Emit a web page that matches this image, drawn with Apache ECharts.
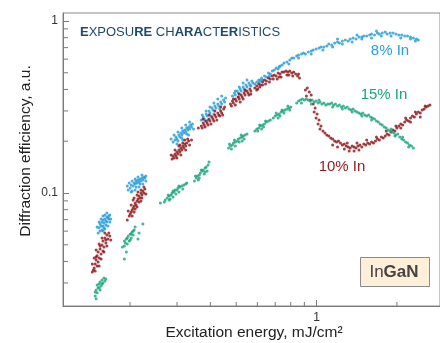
<!DOCTYPE html>
<html lang="en">
<head>
<meta charset="UTF-8">
<title>Exposure characteristics</title>
<script src="https://cdn.jsdelivr.net/npm/echarts@6/dist/echarts.min.js"></script>
<style>
  html, body { margin: 0; padding: 0; background: #fff; }
</style>
</head>
<body>
<div id="chart" style="width: 440px; height: 343px;"></div>
<script>
// energy (mJ/cm2), diffraction efficiency (a.u.)
var inGaN8 = [
  [0.1532,0.0627],[0.1545,0.0661],[0.1558,0.0643],[0.1571,0.0679],[0.1584,0.0697],[0.1597,0.0670],[0.1610,0.0706],
  [0.1624,0.0688],[0.1638,0.0725],[0.1652,0.0716],[0.1666,0.0735],[0.1680,0.0745],[0.1571,0.0610],[0.1597,0.0627],
  [0.1624,0.0652],[0.1545,0.0602],[0.1520,0.0586],[0.1584,0.0643],[0.1638,0.0679],[0.1666,0.0706],
  [0.1506,0.0635],[0.1532,0.0679],[0.1558,0.0706],[0.1584,0.0735],[0.1610,0.0745],[0.1638,0.0765],[0.1584,0.0602],
  [0.1610,0.0618],[0.1652,0.0643],[0.1680,0.0679],[0.1694,0.0706],
  [0.1970,0.1042],[0.2003,0.1070],[0.2020,0.1114],[0.2055,0.1099],[0.2072,0.1144],[0.2090,0.1128],[0.2107,0.1175],
  [0.2125,0.1144],[0.2143,0.1191],[0.2161,0.1159],[0.2180,0.1206],[0.2198,0.1175],[0.2217,0.1223],[0.2235,0.1191],
  [0.2254,0.1239],[0.2273,0.1223],[0.2037,0.1028],[0.2107,0.1084],[0.2180,0.1128],[0.2293,0.1256],
  [0.1953,0.1099],[0.1986,0.1144],[0.2037,0.1175],[0.2090,0.1206],[0.2143,0.1239],[0.2217,0.1273],[0.2020,0.1014],
  [0.2090,0.1042],[0.2161,0.1084],[0.2235,0.1128],[0.2293,0.1175],
  [0.2900,0.1980],[0.2949,0.2034],[0.2973,0.2117],[0.2998,0.2061],[0.3049,0.2175],[0.3075,0.2117],[0.3101,0.2234],
  [0.3127,0.2175],[0.3153,0.2294],[0.3180,0.2234],[0.3207,0.2325],[0.3234,0.2264],[0.3261,0.2388],[0.3289,0.2325],
  [0.3316,0.2420],[0.3344,0.2357],[0.3372,0.2486],[0.3400,0.2420],[0.3429,0.2519],[0.3024,0.2007],[0.3127,0.2089],
  [0.3261,0.2204],
  [0.2851,0.2061],[0.2924,0.2175],[0.3024,0.2264],[0.3127,0.2388],[0.3234,0.2486],[0.3344,0.2588],[0.2998,0.1928],
  [0.3153,0.2034],[0.3316,0.2175],[0.3458,0.2357],
  [0.3698,0.2658],[0.3760,0.2767],[0.3792,0.2694],[0.3857,0.2881],[0.3889,0.2804],[0.3955,0.2999],[0.3988,0.2920],
  [0.4056,0.3125],[0.4090,0.3039],[0.4159,0.3208],[0.4195,0.3125],[0.4266,0.3295],[0.4302,0.3208],[0.4374,0.3383],
  [0.4411,0.3295],[0.4486,0.3474],[0.4524,0.3383],[0.4562,0.3566],[0.3824,0.2623],[0.4022,0.2804],
  [0.3729,0.2842],[0.3857,0.2999],[0.3988,0.3166],[0.4124,0.3338],[0.4266,0.3520],[0.4411,0.3665],[0.3922,0.2658],
  [0.4124,0.2881],[0.4338,0.3081],
  [0.4838,0.3665],[0.4920,0.3815],[0.4961,0.3714],[0.5045,0.3918],[0.5088,0.3815],[0.5174,0.4024],[0.5217,0.3918],
  [0.5306,0.4134],[0.5351,0.4024],[0.5441,0.4246],[0.5487,0.4134],[0.5580,0.4363],[0.5627,0.4246],[0.5722,0.4480],
  [0.5770,0.4363],[0.4961,0.3918],[0.5131,0.4134],[0.5306,0.4363],[0.5487,0.4540],[0.5088,0.3616],[0.5396,0.3918],
  [0.5675,0.4190],
  [0.5868,0.4304],[0.5967,0.4420],[0.6068,0.4540],[0.6120,0.4420],[0.6223,0.4663],[0.6276,0.4540],[0.6382,0.4790],
  [0.6490,0.4726],[0.6600,0.4986],[0.6712,0.4920],[0.6825,0.5121],[0.6941,0.5190],[0.7058,0.5332],[0.7178,0.5261],
  [0.7299,0.5476],[0.7423,0.5550],[0.7549,0.5700],[0.7742,0.5777],[0.7939,0.5934],[0.8073,0.6095],[0.8210,0.6095],
  [0.8420,0.6260],[0.8562,0.6344],[0.8780,0.6430],[0.8929,0.6516],[0.9080,0.6430],[0.9312,0.6604],[0.9550,0.6693],
  [0.9711,0.6783],[0.9959,0.6875],[1.0214,0.6968],[1.0387,0.7062],[1.0652,0.7062],[1.0924,0.7157],[1.1108,0.7351],
  [1.1392,0.7253],[1.1683,0.7450],[1.1979,0.7550],[1.2182,0.7450],[1.2493,0.7652],[1.2812,0.7755],[1.3139,0.7652],
  [1.3362,0.7859],[1.3703,0.7965],[1.4053,0.7859],[1.4411,0.8072],[1.4777,0.8072],[1.5028,0.8181],[1.5410,0.8181],
  [1.5803,0.8291],[1.6071,0.8403],[1.6480,0.8291],[1.6901,0.8516],[1.7187,0.8403],[1.7626,0.8516],[1.8076,0.8631],
  [1.8382,0.8403],[1.8851,0.8516],[1.9331,0.8516],[1.9824,0.8403],[2.0330,0.8291],[2.0848,0.8291],[2.1380,0.8181],
  [2.1925,0.8181],[2.2485,0.8072],[2.3058,0.7965],[2.3647,0.7859],[2.4048,0.7755],
  [0.6171,0.4540],[0.6656,0.4790],[0.7239,0.5403],[0.7873,0.5624],[0.8562,0.6095],[0.9550,0.6430],[1.0562,0.6783],
  [1.1487,0.7062],[1.2493,0.7351],[1.3587,0.7550],[1.4777,0.7859],[1.6071,0.7965],[1.7478,0.8181],[1.9009,0.8181],
  [2.0674,0.7965],[2.2485,0.7859],[2.3449,0.7652],[1.6760,0.8747],[1.4169,0.8291],[1.1979,0.7859]
];

var inGaN10 = [
  [0.1666,0.0586],[0.1638,0.0570],[0.1680,0.0563],[0.1610,0.0548],[0.1652,0.0541],[0.1584,0.0526],[0.1624,0.0512],
  [0.1571,0.0499],[0.1597,0.0486],[0.1545,0.0473],[0.1584,0.0460],[0.1519,0.0454],[0.1558,0.0442],[0.1506,0.0431],
  [0.1532,0.0419],[0.1493,0.0408],[0.1519,0.0397],[0.1481,0.0387],[0.1506,0.0376],[0.1468,0.0366],[0.1457,0.0357],
  [0.1445,0.0347],[0.1624,0.0533],[0.1545,0.0492],[0.1493,0.0425],
  [0.1610,0.0586],[0.1571,0.0548],[0.1532,0.0505],[0.1493,0.0467],[0.1468,0.0419],[0.1445,0.0387],[0.1694,0.0533],
  [0.1638,0.0492],[0.1597,0.0454],[0.1558,0.0413],[0.1532,0.0376],[0.1481,0.0352],
  [0.2273,0.1056],[0.2235,0.1028],[0.2254,0.1001],[0.2198,0.1001],[0.2217,0.0974],[0.2161,0.0961],[0.2180,0.0936],
  [0.2143,0.0923],[0.2125,0.0899],[0.2161,0.0887],[0.2090,0.0875],[0.2107,0.0852],[0.2072,0.0841],[0.2055,0.0818],
  [0.2090,0.0807],[0.2037,0.0797],[0.2020,0.0776],[0.2003,0.0755],[0.1986,0.0735],[0.2198,0.1042],[0.2125,0.0974],
  [0.2055,0.0911],[0.1953,0.0697],[0.2217,0.0936],[0.2072,0.0776],
  [0.2254,0.1084],[0.2143,0.1014],[0.2072,0.0936],[0.2020,0.0852],[0.1970,0.0786],[0.2293,0.0988],[0.2198,0.0899],
  [0.2125,0.0829],[0.2037,0.0735],
  [0.3316,0.2007],[0.3261,0.1954],[0.3207,0.1928],[0.3234,0.1877],[0.3153,0.1877],[0.3180,0.1827],[0.3101,0.1827],
  [0.3127,0.1779],[0.3049,0.1779],[0.3075,0.1732],[0.2998,0.1732],[0.3024,0.1686],[0.2949,0.1686],[0.2973,0.1642],
  [0.2900,0.1642],[0.2924,0.1599],[0.2875,0.1577],[0.3153,0.1954],[0.3289,0.2061],[0.3049,0.1877],[0.3400,0.2034],
  [0.3606,0.2388],
  [0.3207,0.2034],[0.3075,0.1902],[0.2949,0.1779],[0.2851,0.1664],[0.3344,0.1902],[0.3234,0.1779],[0.3101,0.1664],
  [0.2998,0.1599],
  [0.3698,0.2453],[0.3760,0.2553],[0.3792,0.2486],[0.3857,0.2623],[0.3889,0.2553],[0.3955,0.2694],[0.3988,0.2623],
  [0.4056,0.2767],[0.4090,0.2694],[0.4159,0.2842],[0.4195,0.2767],[0.4266,0.2920],[0.4302,0.2842],[0.4374,0.2999],
  [0.4411,0.2920],[0.4486,0.3081],[0.3729,0.2388],[0.3922,0.2486],[0.4124,0.2623],[0.4338,0.2804],[0.4524,0.3166],
  [0.3760,0.2694],[0.3955,0.2842],[0.4159,0.2999],[0.4374,0.3166],[0.3824,0.2420],[0.4022,0.2519],[0.4231,0.2658],
  [0.4449,0.2842],
  [0.4757,0.3295],[0.4838,0.3428],[0.4879,0.3338],[0.4961,0.3520],[0.5003,0.3428],[0.5088,0.3616],[0.5131,0.3520],
  [0.5217,0.3714],[0.5261,0.3616],[0.5351,0.3815],[0.5396,0.3714],[0.5487,0.3918],[0.5534,0.3815],[0.5627,0.4024],
  [0.5675,0.3918],[0.4797,0.3208],[0.5174,0.3383],[0.5580,0.3714],
  [0.4879,0.3520],[0.5131,0.3764],[0.5396,0.3972],[0.4961,0.3249],[0.5306,0.3520],[0.5675,0.3764],
  [0.5868,0.4079],[0.5967,0.4190],[0.6068,0.4304],[0.6171,0.4246],[0.6276,0.4420],[0.6382,0.4540],[0.6490,0.4479],
  [0.6600,0.4663],[0.6712,0.4601],[0.6825,0.4790],[0.6941,0.4854],[0.7058,0.4790],[0.7178,0.4986],[0.7299,0.4920],
  [0.7423,0.5053],[0.7549,0.5053],[0.7677,0.5121],[0.7807,0.5053],[0.7939,0.5121],[0.8073,0.4986],[0.8210,0.5053],
  [0.8349,0.4920],[0.8490,0.4790],[0.8634,0.4663],[0.6017,0.4024],[0.6436,0.4304],[0.6883,0.4601],[0.7361,0.4726],
  [0.7742,0.4854],[0.8142,0.4790],[0.7118,0.4601],
  [0.6120,0.4134],[0.6656,0.4420],[0.7239,0.4726],[0.7873,0.4854],[0.8562,0.4920],[0.5967,0.3972],[0.6276,0.4246],
  [0.9080,0.3972],[0.9233,0.4079],[0.9390,0.3866],[0.9550,0.3714],[0.9156,0.3665],[0.9469,0.3474],[0.9711,0.3295],
  [0.9876,0.3125],[0.9793,0.2960],[1.0044,0.2881],[0.9959,0.2730],[1.0214,0.2658],[1.0128,0.2519],[1.0387,0.2453],
  [1.0300,0.2357],[1.0562,0.2294],[1.0741,0.2234],[1.0924,0.2175],[1.1108,0.2146],[1.1296,0.2089],[1.1487,0.2061],
  [1.1683,0.2007],[1.1880,0.1980],[1.2081,0.2007],[1.2286,0.1954],[1.2493,0.1902],[1.2705,0.1928],[1.2920,0.1877],
  [1.3139,0.1852],[1.3362,0.1827],[1.3587,0.1877],[1.3818,0.1852],[1.4053,0.1827],[1.4291,0.1877],[1.4533,0.1902],
  [1.4777,0.1852],[1.5028,0.1928],[1.5282,0.1902],[1.5541,0.1954],[1.5803,0.1928],[1.6071,0.1980],[1.6344,0.1954],
  [1.6620,0.2007],[1.6901,0.2061],[1.7187,0.2034],[1.7478,0.2117],[1.7774,0.2089],[1.8076,0.2146],[1.8382,0.2204],
  [1.8693,0.2175],[1.9009,0.2264],[1.9331,0.2325],[1.9659,0.2294],[1.9992,0.2388],[2.0330,0.2453],[2.0674,0.2519],
  [2.1024,0.2486],[2.1380,0.2588],[2.1742,0.2658],[2.2110,0.2623],[2.2485,0.2730],[2.2866,0.2804],[2.3253,0.2767],
  [2.3647,0.2881],[2.4048,0.2960],[2.4454,0.2920],[2.4868,0.3039],[2.5289,0.3081],[2.5717,0.3166],[2.6153,0.3208],
  [2.6596,0.3249],
  [1.1487,0.1902],[1.1979,0.1852],[1.2705,0.1803],[1.3250,0.1755],[1.3818,0.1755],[1.4411,0.1779],[1.3028,0.1954],
  [1.4169,0.1954],[1.5410,0.2034],[1.6760,0.2117],[1.8228,0.2294],[1.9824,0.2453],[2.1560,0.2730],[2.3449,0.2960],
  [2.5502,0.3208],[2.0674,0.2388],[2.2485,0.2588],[2.4454,0.2767]
];

var inGaN15 = [
  [0.1597,0.0320],[0.1571,0.0312],[0.1545,0.0304],[0.1584,0.0300],[0.1532,0.0296],[0.1558,0.0288],[0.1519,0.0281],
  [0.1493,0.0273],[0.1506,0.0263],[0.1481,0.0252],[0.1493,0.0243],[0.1610,0.0308],[0.1545,0.0273],
  [0.1506,0.0292],[0.1571,0.0296],[0.1481,0.0266],[0.1532,0.0281],[0.1624,0.0316],
  [0.2072,0.0610],[0.2037,0.0594],[0.2003,0.0578],[0.2055,0.0570],[0.1970,0.0563],[0.2020,0.0548],[0.1937,0.0541],
  [0.1986,0.0526],[0.1921,0.0512],[0.1953,0.0505],[0.1905,0.0492],[0.2235,0.0661],[0.2161,0.0586],[0.2143,0.0541],
  [0.1937,0.0454],[0.1905,0.0413],[0.2090,0.0635],
  [0.1953,0.0548],[0.1905,0.0526],[0.2003,0.0533],[0.2055,0.0602],[0.1873,0.0486],[0.2020,0.0578],
  [0.2711,0.0911],[0.2757,0.0936],[0.2804,0.0961],[0.2851,0.0974],[0.2875,0.1001],[0.2924,0.1014],[0.2949,0.1042],
  [0.2998,0.1042],[0.3024,0.1070],[0.3075,0.1084],[0.3127,0.1099],[0.3180,0.1114],[0.3234,0.1128],[0.3261,0.1144],
  [0.2688,0.0887],[0.2827,0.0923],[0.2900,0.0948],[0.3049,0.1014],[0.2599,0.0875],
  [0.2780,0.0974],[0.2900,0.1028],[0.3049,0.1099],[0.2804,0.0911],[0.2973,0.0988],[0.3153,0.1056],
  [0.3487,0.1175],[0.3546,0.1223],[0.3576,0.1256],[0.3636,0.1273],[0.3667,0.1307],[0.3729,0.1343],[0.3760,0.1361],
  [0.3824,0.1399],[0.3857,0.1418],[0.3922,0.1456],[0.3955,0.1515],[0.3606,0.1191],[0.3792,0.1290],[0.3889,0.1343],
  [0.3516,0.1256],[0.3698,0.1361],[0.3636,0.1223],[0.3824,0.1325],
  [0.4678,0.1827],[0.4757,0.1877],[0.4838,0.1902],[0.4879,0.1954],[0.4961,0.1980],[0.5045,0.2007],[0.5088,0.2061],
  [0.5174,0.2089],[0.5261,0.2117],[0.5306,0.2146],[0.5396,0.2175],[0.5487,0.2204],[0.4797,0.1803],[0.5131,0.1980],
  [0.5351,0.2061],[0.4717,0.1928],[0.4920,0.2034],[0.5217,0.2175],[0.4961,0.1877],[0.5261,0.2007],
  [0.5868,0.2294],[0.5967,0.2357],[0.6068,0.2388],[0.6171,0.2453],[0.6276,0.2486],[0.6382,0.2519],[0.6490,0.2588],
  [0.6600,0.2623],[0.6712,0.2658],[0.6017,0.2294],[0.6329,0.2420],[0.6120,0.2486],[0.6436,0.2623],[0.6223,0.2357],
  [0.6883,0.2730],[0.6999,0.2804],[0.7118,0.2842],[0.7239,0.2881],[0.7361,0.2960],[0.7486,0.2999],[0.7613,0.3039],
  [0.7742,0.3081],[0.7873,0.3125],[0.8006,0.3166],[0.7178,0.2730],[0.7549,0.2920],
  [0.7058,0.2920],[0.7423,0.3039],[0.7807,0.3208],[0.7299,0.2804],[0.7939,0.3039],
  [0.8420,0.3338],[0.8562,0.3428],[0.8706,0.3474],[0.8854,0.3520],[0.9004,0.3474],[0.9156,0.3520],[0.9312,0.3474],
  [0.9469,0.3428],[0.9630,0.3474],[0.9793,0.3383],[0.9959,0.3428],[1.0128,0.3338],[1.0300,0.3383],[1.0474,0.3295],
  [1.0652,0.3338],[1.0832,0.3249],[1.1015,0.3295],[0.8780,0.3338],[0.9550,0.3295],[1.0214,0.3474],
  [1.1202,0.3295],[1.1392,0.3338],[1.1585,0.3249],[1.1781,0.3295],[1.1979,0.3208],[1.2182,0.3249],[1.2388,0.3166],
  [1.2598,0.3208],[1.2812,0.3125],[1.3028,0.3166],[1.3250,0.3081],[1.3474,0.3039],[1.3703,0.3081],[1.3935,0.2999],
  [1.4169,0.2960],[1.4411,0.2920],[1.4655,0.2881],[1.4902,0.2920],[1.5155,0.2842],[1.5410,0.2804],[1.5671,0.2842],
  [1.5937,0.2767],[1.6207,0.2730],[1.6480,0.2694],[1.6760,0.2623],[1.7043,0.2588],[1.7332,0.2519],[1.7626,0.2486],
  [1.7924,0.2420],[1.8228,0.2388],[1.8537,0.2325],[1.8851,0.2294],[1.9170,0.2264],[1.9494,0.2234],[1.9824,0.2175],
  [2.0160,0.2204],[2.0501,0.2117],[2.0848,0.2061],[2.1201,0.2034],[2.1560,0.1980],[2.1925,0.1954],[2.2296,0.1902],
  [2.2674,0.1877],[2.3058,0.1827],[1.9009,0.2357],[1.9659,0.2146],[2.1024,0.2117],[2.2110,0.1852],
  [1.1487,0.3166],[1.2493,0.3081],[1.3587,0.2960],[1.4777,0.2804],[1.6071,0.2658]
];

// axis ranges and minor ticks
var X_MIN = 0.1122, X_MAX = 2.90;
var Y_MIN = 0.02203, Y_MAX = 1.113;
var xMinorTicks = [0.2, 0.3, 0.4, 0.5, 0.6, 0.7, 0.8, 0.9, 2];
var yMinorTicks = [0.03, 0.04, 0.05, 0.06, 0.07, 0.08, 0.09, 0.2, 0.3, 0.4, 0.5, 0.6, 0.7, 0.8, 0.9];

var FONT = '"Liberation Sans", Arial, Helvetica, sans-serif';
var chart = echarts.init(document.getElementById('chart'));

function tickSeries(list, horizontal, len) {
  return {
    type: 'custom',
    silent: true,
    clip: false,
    z: 5,
    data: list.map(function (v) { return horizontal ? [v, Y_MIN] : [X_MIN, v]; }),
    encode: { x: 0, y: 1 },
    renderItem: function (params, api) {
      var p = api.coord([api.value(0), api.value(1)]);
      var shape = horizontal
        ? { x1: p[0], y1: p[1], x2: p[0], y2: p[1] - len }
        : { x1: p[0], y1: p[1], x2: p[0] + len, y2: p[1] };
      return { type: 'line', shape: shape, style: { stroke: '#7a7a7a', lineWidth: 1 } };
    }
  };
}

function scatter(name, data, color) {
  return {
    name: name,
    type: 'scatter',
    data: data,
    symbolSize: 3,
    itemStyle: { color: color },
    silent: true
  };
}

var option = {
  animation: false,
  backgroundColor: '#fff',
  grid: {
    left: 63, top: 13, right: -10, bottom: 37,
    show: true, borderColor: '#8a8a8a', borderWidth: 1
  },
  xAxis: {
    type: 'log', logBase: 10, min: X_MIN, max: X_MAX,
    axisLine: { show: true, lineStyle: { color: '#7a7a7a', width: 1 } },
    axisTick: { show: true, inside: true, length: 6, lineStyle: { color: '#7a7a7a' } },
    axisLabel: { color: '#333', fontSize: 12, fontFamily: FONT, margin: 6, showMinLabel: false, showMaxLabel: false },
    splitLine: { show: false }
  },
  yAxis: {
    type: 'log', logBase: 10, min: Y_MIN, max: Y_MAX,
    axisLine: { show: true, lineStyle: { color: '#7a7a7a', width: 1 } },
    axisTick: { show: true, inside: true, length: 6, lineStyle: { color: '#7a7a7a' } },
    axisLabel: { color: '#333', fontSize: 12, fontFamily: FONT, margin: 5, showMinLabel: false, showMaxLabel: false },
    splitLine: { show: false }
  },
  graphic: [
    {
      type: 'text', x: 80, y: 32, silent: true,
      style: {
        text: '{b|E}{n|XPOSU}{b|RE} {n|CH}{b|ARA}{n|CT}{b|ER}{n|ISTICS}',
        verticalAlign: 'middle',
        fill: '#1d4a6b', fontSize: 13, fontFamily: FONT,
        rich: {
          b: { fontWeight: 'bold', fontSize: 13, fontFamily: FONT, fill: '#1d4a6b' },
          n: { fontWeight: 'normal', fontSize: 13, fontFamily: FONT, fill: '#1d4a6b' }
        }
      }
    },
    { type: 'text', x: 390, y: 51, silent: true,
      style: { text: '8% In', fill: '#2a9ed6', fontSize: 15, fontFamily: FONT, align: 'center', verticalAlign: 'middle' } },
    { type: 'text', x: 384, y: 95, silent: true,
      style: { text: '15% In', fill: '#1aa37a', fontSize: 15, fontFamily: FONT, align: 'center', verticalAlign: 'middle' } },
    { type: 'text', x: 342, y: 167, silent: true,
      style: { text: '10% In', fill: '#8e1a1c', fontSize: 15, fontFamily: FONT, align: 'center', verticalAlign: 'middle' } },
    { type: 'rect', silent: true, shape: { x: 360.5, y: 257.5, width: 69, height: 29 },
      style: { fill: '#fdefd8', stroke: '#8a8a8a', lineWidth: 1 } },
    {
      type: 'text', x: 394, y: 272, silent: true,
      style: {
        text: '{n|In}{b|GaN}', align: 'center', verticalAlign: 'middle',
        fill: '#444', fontSize: 17, fontFamily: FONT,
        rich: {
          n: { fontSize: 17, fontFamily: FONT, fill: '#444', fontWeight: 'normal' },
          b: { fontSize: 17, fontFamily: FONT, fill: '#444', fontWeight: 'bold' }
        }
      }
    },
    { type: 'text', x: 254, y: 333, silent: true,
      style: { text: 'Excitation energy, mJ/cm²', fill: '#222', fontSize: 15.5, fontFamily: FONT, align: 'center', verticalAlign: 'middle' } },
    { type: 'text', x: 26, y: 151, rotation: Math.PI / 2, silent: true,
      style: { text: 'Diffraction efficiency, a.u.', fill: '#222', fontSize: 15.5, fontFamily: FONT, align: 'center', verticalAlign: 'middle' } }
  ],
  series: [
    scatter('8% In', inGaN8, '#1f9ad6'),
    scatter('10% In', inGaN10, '#8b1014'),
    scatter('15% In', inGaN15, '#17a37a'),
    tickSeries(xMinorTicks, true, 4),
    tickSeries(yMinorTicks, false, 5)
  ]
};

chart.setOption(option);
</script>
</body>
</html>
